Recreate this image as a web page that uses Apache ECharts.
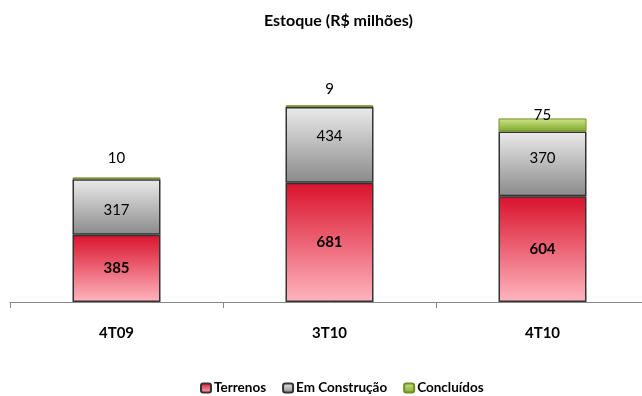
<!DOCTYPE html>
<html>
<head>
<meta charset="utf-8">
<script src="https://cdn.jsdelivr.net/npm/echarts@6/dist/echarts.min.js"></script>
<style>
  html, body { margin: 0; padding: 0; background: #fff; overflow: hidden; }
  #chart { width: 660px; height: 396px; }
</style>
</head>
<body>
<div id="chart"></div>
<script>
// Estoque por trimestre (R$ milhões)
const categories = ['4T09', '3T10', '4T10'];
const terrenos = [385, 681, 604];
const emConstrucao = [317, 434, 370];
const concluidos = [10, 9, 75];
// label placement tweaks (px)
const concluidosLabelGap = [12, 9, -4];
const construcaoLabelShift = [3, -9, -6];

const FONT = 'Lato, "Open Sans", sans-serif';

function vGrad(top, bottom) {
  return new echarts.graphic.LinearGradient(0, 0, 0, 1, [
    { offset: 0, color: top },
    { offset: 1, color: bottom }
  ]);
}

const chart = echarts.init(document.getElementById('chart'));
chart.setOption({
  animation: false,
  title: {
    text: 'Estoque (R$ milhões)',
    left: 264,
    top: 13,
    padding: 0,
    textStyle: { fontFamily: FONT, fontSize: 16, fontWeight: 'bold', color: '#000' }
  },
  legend: {
    bottom: 1,
    left: 200,
    padding: 0,
    itemWidth: 10,
    itemHeight: 9,
    itemGap: 16,
    icon: 'roundRect',
    textStyle: { fontFamily: FONT, fontSize: 13.5, fontWeight: 'bold', color: '#000', padding: [0, 0, 0, -2] },
    data: ['Terrenos', 'Em Construção', 'Concluídos']
  },
  grid: { left: 10, width: 639, top: 57, height: 245 },
  xAxis: {
    type: 'category',
    data: categories,
    boundaryGap: true,
    axisLine: { lineStyle: { color: '#888', width: 1 } },
    axisTick: { show: true, length: 6, lineStyle: { color: '#888' } },
    axisLabel: { fontFamily: FONT, fontSize: 15, fontWeight: 'bold', color: '#000', margin: 24 }
  },
  yAxis: { type: 'value', min: 0, max: 1400, show: false, splitLine: { show: false } },
  series: [
    {
      name: 'Terrenos',
      type: 'bar',
      stack: 'estoque',
      barWidth: 88,
      data: terrenos,
      itemStyle: { color: vGrad('#d9122c', '#ffb6bf'), borderColor: '#333', borderWidth: 1.5 },
      label: { show: true, position: 'inside', fontFamily: FONT, fontSize: 15, fontWeight: 'bold', color: '#000' }
    },
    {
      name: 'Em Construção',
      type: 'bar',
      stack: 'estoque',
      barWidth: 88,
      data: emConstrucao.map((v, i) => ({
        value: v,
        label: { offset: [0, construcaoLabelShift[i]] }
      })),
      itemStyle: { color: vGrad('#ebebeb', '#8a8a8a'), borderColor: '#333', borderWidth: 1.5 },
      label: { show: true, position: 'inside', fontFamily: FONT, fontSize: 15, color: '#000' }
    },
    {
      name: 'Concluídos',
      type: 'bar',
      stack: 'estoque',
      barWidth: 88,
      data: concluidos.map((v, i) => ({
        value: v,
        label: { distance: concluidosLabelGap[i] }
      })),
      itemStyle: { color: vGrad('#cfe68a', '#7fa82a'), borderColor: '#6f8f2a', borderWidth: 1 },
      label: { show: true, position: 'top', fontFamily: FONT, fontSize: 15, color: '#000' }
    }
  ]
});
</script>
</body>
</html>
